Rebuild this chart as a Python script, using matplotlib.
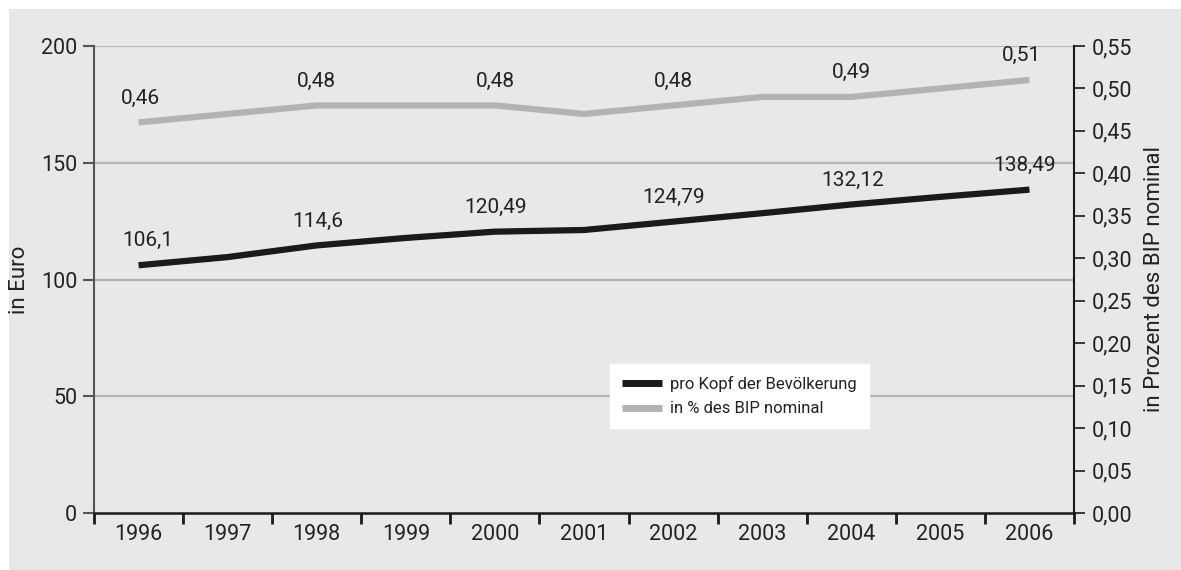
import matplotlib
matplotlib.use("Agg")
import matplotlib.pyplot as plt
from matplotlib.patches import Rectangle
from matplotlib.ticker import FixedLocator, FuncFormatter

plt.rcParams['font.family'] = ['Liberation Sans Narrow', 'Roboto', 'DejaVu Sans']

# --- data ---
years = ['1996', '1997', '1998', '1999', '2000', '2001', '2002', '2003', '2004', '2005', '2006']
euro_per_capita = [106.1, 109.6, 114.6, 117.8, 120.49, 121.2, 124.79, 128.4, 132.12, 135.4, 138.49]
pct_gdp = [0.46, 0.47, 0.48, 0.48, 0.48, 0.47, 0.48, 0.49, 0.49, 0.50, 0.51]
label_years = ['1996', '1998', '2000', '2002', '2004', '2006']
euro_labels = ['106,1', '114,6', '120,49', '124,79', '132,12', '138,49']

black = '#1a1a1a'
grey = '#b3b3b3'
panel = '#e7e8ea'
txt = '#222222'

fig = plt.figure(figsize=(11.81, 5.70), dpi=100)
fig.patch.set_facecolor('white')
fig.add_artist(Rectangle((9 / 1181, 0), 1, 1 - 9 / 570, transform=fig.transFigure,
                         facecolor=panel, edgecolor='none', zorder=0))

ax = fig.add_axes([94 / 1181, 1 - 513 / 570, 980 / 1181, 467 / 570])
ax.set_facecolor('none')
ax2 = ax.twinx()

x = list(range(len(years)))
ax.set_xlim(-0.5, len(years) - 0.5)
ax.set_ylim(0, 200)
ax2.set_ylim(0, 0.55)

# grid lines on the left scale
for v in [50, 100, 150, 200]:
    ax.axhline(v, color='#b5b5b5', lw=1.6, zorder=1)

ax.plot(x, euro_per_capita, color=black, lw=4.5, solid_capstyle='butt', zorder=3)
ax2.plot(x, pct_gdp, color=grey, lw=4.5, solid_capstyle='butt', zorder=3)


def fmt_de(v, d):
    return f"{v:.{d}f}".replace('.', ',')


# value labels every second year
for k, yr in enumerate(label_years):
    i = years.index(yr)
    if i == 0:
        dx1, dx2 = 9, 2
    elif i == len(years) - 1:
        dx1, dx2 = -5, -8
    else:
        dx1, dx2 = 1, 0
    ax.annotate(euro_labels[k], (i, euro_per_capita[i]), xytext=(dx1, 15),
                textcoords='offset pixels', ha='center', va='bottom',
                fontsize=15, color=txt)
    ax2.annotate(fmt_de(pct_gdp[i], 2), (i, pct_gdp[i]), xytext=(dx2, 15),
                 textcoords='offset pixels', ha='center', va='bottom',
                 fontsize=15, color=txt)

# axes styling
for a in (ax, ax2):
    a.spines['top'].set_visible(False)
ax.spines['left'].set_color('#555555')
ax.spines['left'].set_linewidth(1.5)
ax.spines['bottom'].set_color(black)
ax.spines['bottom'].set_linewidth(1.8)
ax.spines['right'].set_visible(False)
ax2.spines['left'].set_visible(False)
ax2.spines['bottom'].set_visible(False)
ax2.spines['right'].set_color(black)
ax2.spines['right'].set_linewidth(1.5)

ax.set_xticks(x)
ax.set_xticklabels(years, fontsize=15.5, color=txt)
ax.tick_params(axis='x', which='major', length=0, pad=8)
ax.xaxis.set_minor_locator(FixedLocator([i - 0.5 for i in range(len(years) + 1)]))
ax.tick_params(axis='x', which='minor', length=8, width=2, color=black, direction='out')

ax.set_yticks([0, 50, 100, 150, 200])
ax.tick_params(axis='y', length=8, width=1.5, color='#555555', labelsize=15.5,
               labelcolor=txt, pad=4)
ax2.set_yticks([i * 0.05 for i in range(12)])
ax2.yaxis.set_major_formatter(FuncFormatter(lambda v, p: fmt_de(v, 2)))
ax2.tick_params(axis='y', length=8, width=1.2, color=black, labelsize=15.5,
                labelcolor=txt, pad=5)

ax.set_ylabel('in Euro', fontsize=16, color=txt, labelpad=8)
ax2.set_ylabel('in Prozent des BIP nominal', fontsize=16, color=txt, labelpad=8)

# legend
h1, = ax.plot([], [], color=black, lw=5, solid_capstyle='butt')
h2, = ax.plot([], [], color=grey, lw=5, solid_capstyle='butt')
leg = ax2.legend([h1, h2], ['pro Kopf der Bevölkerung', 'in % des BIP nominal'],
                 loc='lower left', bbox_to_anchor=(0.527, 0.182), frameon=True,
                 fancybox=False, framealpha=1, edgecolor='white', fontsize=12,
                 handlelength=2.4, handletextpad=0.5, borderpad=0.7, labelspacing=0.55,
                 borderaxespad=0)
leg.get_frame().set_facecolor('white')
for t in leg.get_texts():
    t.set_color(txt)

fig.savefig('out.png', dpi=100, facecolor=fig.get_facecolor())
